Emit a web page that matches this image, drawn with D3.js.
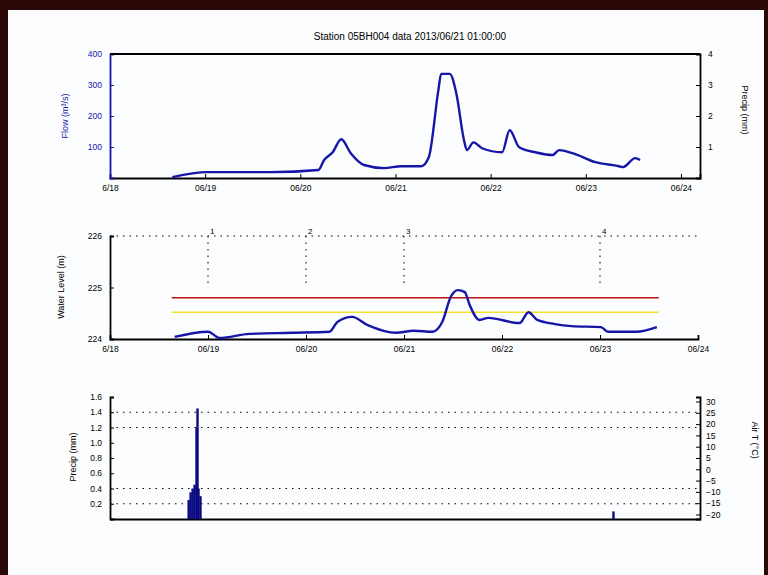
<!DOCTYPE html>
<html>
<head>
<meta charset="utf-8">
<script src="https://cdn.jsdelivr.net/npm/d3@7"></script>
<style>
  body { margin: 0; background: #2a0808; }
  #frame { position: absolute; left: 8px; top: 10px; width: 756px; height: 565px; background: #fcfdfe; }
  svg { font-family: "Liberation Sans", Arial, sans-serif; }
</style>
</head>
<body>
<div id="frame"></div>
<svg id="drawing_region" style="position:absolute;left:0;top:0"></svg>
<script>
// ---- data ----
const titleText = 'Station 05BH004 data 2013/06/21 01:00:00';

// top panel: flow
const flowTime = [0.655,1.02,1.69,2.19,2.25,2.34,2.43,2.53,2.67,2.88,3.06,3.27,3.35,3.45,3.48,3.57,3.64,3.72,3.75,3.82,3.91,4.12,4.20,4.30,4.47,4.65,4.72,4.86,5.10,5.35,5.39,5.52,5.57];
const flowValue = [3,19,19,26,58,83,125,80,42,32,38,38,67,282,336,336,272,122,90,115,96,83,154,99,83,74,90,80,51,38,35,64,58];
const flowTicks = [100,200,300,400];
const flowRightTicks = [1,2,3,4];
const topDateLabels = ['6/18','06/19','06/20','06/21','06/22','06/23','06/24'];

// middle panel: water level
const levelTime = [0.66,1.00,1.12,1.42,1.85,2.24,2.32,2.47,2.63,2.92,3.10,3.29,3.39,3.48,3.55,3.62,3.67,3.77,3.86,4.18,4.27,4.36,4.54,4.71,5.01,5.08,5.37,5.58];
const levelValue = [224.04,224.14,224.02,224.10,224.12,224.14,224.33,224.43,224.27,224.12,224.16,224.14,224.33,224.83,224.95,224.91,224.66,224.37,224.41,224.31,224.52,224.37,224.29,224.25,224.23,224.14,224.14,224.23];
const levelTicks = [224,225,226];
const levelThresholds = [224.80, 224.52];
const levelEvents = [1, 2, 3, 5];
const eventLabels = ['1', '2', '3', '4'];
const midDateLabels = ['6/18','06/19','06/20','06/21','06/22','06/23','06/24'];

// bottom panel: precipitation
const precipTime = [0.80,0.82,0.84,0.86,0.88,0.89,0.90,0.92,5.12];
const precipValue = [0.25,0.35,0.4,0.45,1.2,1.45,0.4,0.3,0.1];
const precipTicks = [0.2,0.4,0.6,0.8,1,1.2,1.4,1.6];
const precipGrid = [0.2,0.4,1.2,1.4];
const airTicks = [-20,-15,-10,-5,0,5,10,15,20,25,30];

const blue = '#1616a8';

const svg = d3.select('#drawing_region')
    .attr('width', 768)
    .attr('height', 575);

svg.append('text')
    .attr('x', 410).attr('y', 40)
    .attr('text-anchor', 'middle')
    .style('font-size', '10px')
    .text(titleText);

// ---------- top panel ----------
const p1 = {x0: 110, x1: 700, y0: 54, y1: 178};
const xTop = d3.scaleLinear().domain([0, 6.2]).range([p1.x0, p1.x1]);
const yFlow = d3.scaleLinear().domain([0, 400]).range([p1.y1, p1.y0]);
const yFlowR = d3.scaleLinear().domain([0, 4]).range([p1.y1, p1.y0]);

svg.append('g')
    .attr('transform', `translate(0,${p1.y1})`)
    .call(d3.axisBottom(xTop).tickValues(d3.range(7)).tickSize(-4).tickPadding(7)
        .tickFormat((d, i) => topDateLabels[i]));
svg.append('g')
    .attr('transform', `translate(${p1.x0},0)`)
    .call(d3.axisLeft(yFlow).tickValues(flowTicks).tickSize(-4).tickPadding(8))
    .call(g => g.selectAll('.tick text').attr('fill', blue))
    .call(g => g.select('.domain').attr('stroke', blue))
    .call(g => g.selectAll('.tick line').attr('stroke', blue));
svg.append('line')
    .attr('x1', p1.x0).attr('x2', p1.x1).attr('y1', p1.y0).attr('y2', p1.y0)
    .attr('stroke', '#000').attr('stroke-width', 1.8);
svg.append('g')
    .attr('transform', `translate(${p1.x1},0)`)
    .call(d3.axisRight(yFlowR).tickValues(flowRightTicks).tickSize(-4).tickPadding(8)
        .tickFormat(d3.format('d')));

svg.append('path')
    .datum(d3.zip(flowTime, flowValue))
    .attr('fill', 'none')
    .attr('stroke', blue)
    .attr('stroke-width', 2.4)
    .attr('stroke-linejoin', 'round')
    .attr('d', d3.line().curve(d3.curveMonotoneX).x(d => xTop(d[0])).y(d => yFlow(d[1])));

svg.append('text')
    .attr('transform', 'translate(68,116) rotate(-90)')
    .attr('text-anchor', 'middle')
    .style('font-size', '9px').attr('fill', blue)
    .text('Flow (m³/s)');
svg.append('text')
    .attr('transform', 'translate(742,110) rotate(90)')
    .attr('text-anchor', 'middle')
    .style('font-size', '9px')
    .text('Precip (mm)');

// ---------- middle panel ----------
const p2 = {x0: 110, x1: 698, y0: 236, y1: 339};
const xMid = d3.scaleLinear().domain([0, 6]).range([p2.x0, p2.x1]);
const yLevel = d3.scaleLinear().domain([224, 226]).range([p2.y1, p2.y0]);

svg.append('g')
    .attr('transform', `translate(0,${p2.y1})`)
    .call(d3.axisBottom(xMid).tickValues(d3.range(7)).tickSize(-4).tickPadding(7)
        .tickFormat((d, i) => midDateLabels[i]));
svg.append('g')
    .attr('transform', `translate(${p2.x0},0)`)
    .call(d3.axisLeft(yLevel).tickValues(levelTicks).tickSize(-4).tickPadding(8)
        .tickFormat(d3.format('d')));

// dotted top grid line and event markers
svg.append('line')
    .attr('x1', p2.x0).attr('x2', p2.x1)
    .attr('y1', yLevel(226)).attr('y2', yLevel(226))
    .attr('stroke', '#000').attr('stroke-dasharray', '1.5,5');
svg.append('g').selectAll('line')
    .data(levelEvents)
    .join('line')
    .attr('x1', d => xMid(d)).attr('x2', d => xMid(d))
    .attr('y1', yLevel(226)).attr('y2', yLevel(225.0))
    .attr('stroke', '#000').attr('stroke-dasharray', '1.5,5');
svg.append('g').selectAll('text')
    .data(levelEvents)
    .join('text')
    .attr('x', d => xMid(d) + 2).attr('y', yLevel(226) - 2)
    .style('font-size', '8px')
    .text((d, i) => eventLabels[i]);

svg.append('g').selectAll('line')
    .data(levelThresholds)
    .join('line')
    .attr('x1', xMid(0.63)).attr('x2', xMid(5.6))
    .attr('y1', d => yLevel(d)).attr('y2', d => yLevel(d))
    .attr('stroke', (d, i) => i === 0 ? '#c01010' : '#f2e22a')
    .attr('stroke-width', 1.6);

svg.append('path')
    .datum(d3.zip(levelTime, levelValue))
    .attr('fill', 'none')
    .attr('stroke', blue)
    .attr('stroke-width', 2.4)
    .attr('stroke-linejoin', 'round')
    .attr('d', d3.line().curve(d3.curveMonotoneX).x(d => xMid(d[0])).y(d => yLevel(d[1])));

svg.append('text')
    .attr('transform', 'translate(64,287) rotate(-90)')
    .attr('text-anchor', 'middle')
    .style('font-size', '9px')
    .text('Water Level (m)');

// ---------- bottom panel ----------
const p3 = {x0: 110, x1: 700, y0: 397, y1: 519};
const xBot = d3.scaleLinear().domain([0, 6]).range([p3.x0, p3.x1]);
const yPrecip = d3.scaleLinear().domain([0, 1.6]).range([p3.y1, p3.y0]);
const yAir = d3.scaleLinear().domain([-22, 32]).range([p3.y1, p3.y0]);

svg.append('g').selectAll('line')
    .data(precipGrid)
    .join('line')
    .attr('x1', p3.x0).attr('x2', p3.x1)
    .attr('y1', d => yPrecip(d)).attr('y2', d => yPrecip(d))
    .attr('stroke', '#000').attr('stroke-dasharray', '1.5,5');

svg.append('g')
    .attr('transform', `translate(0,${p3.y1})`)
    .call(d3.axisBottom(xBot).tickValues([]).tickSizeOuter(0));
svg.append('g')
    .attr('transform', `translate(${p3.x0},0)`)
    .call(d3.axisLeft(yPrecip).tickValues(precipTicks).tickSize(-4).tickPadding(8)
        .tickFormat(d3.format('.1f')));
svg.append('g')
    .attr('transform', `translate(${p3.x1},0)`)
    .call(d3.axisRight(yAir).tickValues(airTicks).tickSize(-4).tickPadding(6));

svg.append('g').selectAll('rect')
    .data(d3.zip(precipTime, precipValue))
    .join('rect')
    .attr('x', d => xBot(d[0]) - 1.2)
    .attr('width', 2.4)
    .attr('y', d => yPrecip(d[1]))
    .attr('height', d => p3.y1 - yPrecip(d[1]))
    .attr('fill', '#0a0a80');

svg.append('text')
    .attr('transform', 'translate(76,457) rotate(-90)')
    .attr('text-anchor', 'middle')
    .style('font-size', '9px')
    .text('Precip (mm)');
svg.append('text')
    .attr('transform', 'translate(752,440) rotate(90)')
    .attr('text-anchor', 'middle')
    .style('font-size', '9px')
    .text('Air T (°C)');

svg.selectAll('.tick text').style('font-size', '8.5px');
svg.selectAll('.domain').attr('stroke-width', 1.8);
</script>
</body>
</html>
